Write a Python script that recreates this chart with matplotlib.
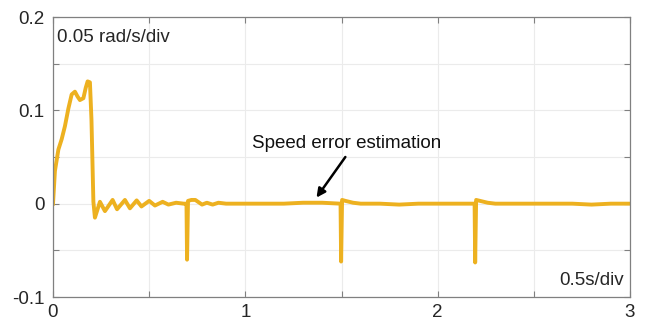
import matplotlib
matplotlib.use("Agg")
import matplotlib.pyplot as plt
import numpy as np

plt.rcParams['font.family'] = ['Liberation Sans', 'DejaVu Sans']

# Speed estimation error trace (time in s, error in rad/s)
time_s = [0.000, 0.010, 0.028, 0.045, 0.062, 0.080, 0.097, 0.114, 0.127, 0.140,
          0.158, 0.170, 0.180, 0.192, 0.200, 0.210, 0.218, 0.244, 0.270, 0.310,
          0.333, 0.374, 0.400, 0.435, 0.460, 0.500, 0.530, 0.570, 0.600, 0.640,
          0.680, 0.694, 0.697, 0.702, 0.720, 0.740, 0.775, 0.800, 0.830, 0.860,
          0.900, 0.950, 1.000, 1.100, 1.200, 1.300, 1.400, 1.495, 1.498, 1.503,
          1.520, 1.560, 1.600, 1.700, 1.800, 1.900, 2.000, 2.100, 2.192, 2.195,
          2.200, 2.220, 2.260, 2.300, 2.400, 2.500, 2.600, 2.700, 2.800, 2.900,
          3.000]
speed_err = [0.000, 0.035, 0.058, 0.069, 0.083, 0.102, 0.117, 0.120, 0.115, 0.111,
             0.113, 0.124, 0.131, 0.130, 0.090, 0.002, -0.015, 0.002, -0.008, 0.004,
             -0.006, 0.004, -0.005, 0.0035, -0.003, 0.003, -0.002, 0.002, -0.001, 0.001,
             0.000, 0.000, -0.060, 0.003, 0.004, 0.004, -0.001, 0.001, -0.001, 0.001,
             0.000, 0.000, 0.000, 0.000, 0.000, 0.001, 0.001, 0.000, -0.062, 0.004,
             0.003, 0.001, 0.000, 0.000, -0.001, 0.000, 0.000, 0.000, 0.000, -0.063,
             0.004, 0.003, 0.001, 0.000, 0.000, 0.000, 0.000, 0.000, -0.001, 0.000,
             0.000]

x_ticks = [0, 1, 2, 3]
y_ticks = [-0.1, 0, 0.1, 0.2]
y_tick_labels = ['-0.1', '0', '0.1', '0.2']

line_color = '#EDB120'
axis_color = '#808080'
fs = 13.5

fig = plt.figure(figsize=(6.52, 3.22), dpi=100)
ax = fig.add_axes([53 / 652, 1 - 297 / 322, 577 / 652, 280 / 322])

ax.plot(time_s, speed_err, color=line_color, lw=2.8, solid_joinstyle='round')

ax.set_xlim(0, 3)
ax.set_ylim(-0.1, 0.2)
ax.set_xticks(x_ticks)
ax.set_xticks(np.arange(0, 3.01, 0.5), minor=True)
ax.set_yticks(y_ticks)
ax.set_yticklabels(y_tick_labels)
ax.set_yticks(np.arange(-0.1, 0.201, 0.05), minor=True)
ax.grid(True, which='both', color='#ebebeb', lw=0.8)
ax.set_axisbelow(True)

ax.tick_params(axis='both', which='both', direction='in', colors=axis_color,
               labelcolor='#262626', labelsize=fs, top=True, right=True,
               length=4, width=0.8)
ax.tick_params(axis='x', pad=5)
ax.tick_params(axis='y', pad=6)
for s in ax.spines.values():
    s.set_color(axis_color)
    s.set_linewidth(0.9)

ax.text(0.007, 0.925, '0.05 rad/s/div', transform=ax.transAxes, fontsize=fs,
        color='#262626', va='center', ha='left')
ax.text(0.99, 0.06, '0.5s/div', transform=ax.transAxes, fontsize=fs,
        color='#262626', va='center', ha='right')

ax.text(1.035, 0.065, 'Speed error estimation', fontsize=fs, color='#111111',
        ha='left', va='center')
ax.annotate('', xy=(1.37, 0.0065), xytext=(1.52, 0.050),
            arrowprops=dict(arrowstyle='-|>', color='black', lw=1.8,
                            mutation_scale=13, shrinkA=0, shrinkB=0))

fig.savefig('out.png', dpi=100)
